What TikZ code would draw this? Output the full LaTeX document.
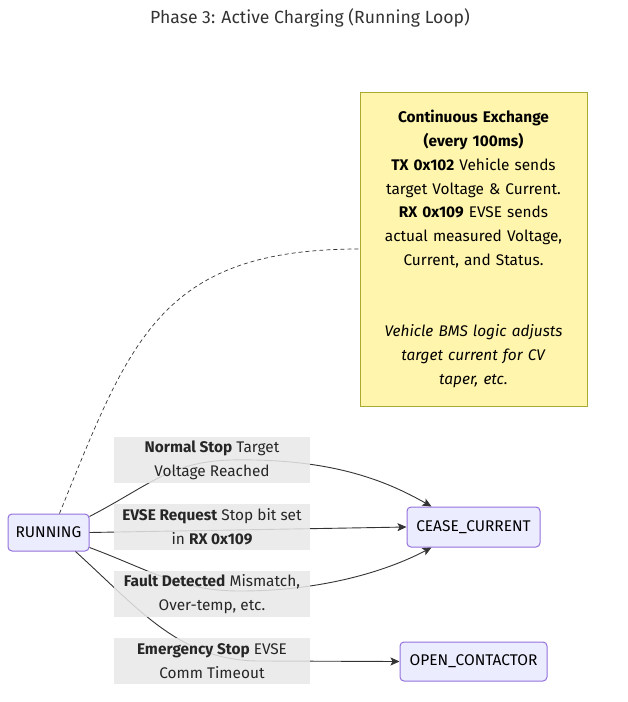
\documentclass[tikz,border=0pt]{standalone}
\usepackage{fontspec}
\setmainfont{Fira Sans}
\usetikzlibrary{arrows.meta,calc}
\definecolor{nodefill}{HTML}{ECECFF}
\definecolor{nodeline}{HTML}{9370DB}
\definecolor{notefill}{HTML}{FFF5AD}
\definecolor{noteline}{HTML}{AAAA33}
\definecolor{lblfill}{HTML}{E8E8E8}
\definecolor{edgecol}{HTML}{333333}
\definecolor{titlecol}{HTML}{333333}
\tikzset{
  statebox/.style={draw=nodeline, fill=nodefill, rounded corners=4pt, line width=1pt,
    font=\fontsize{15.5}{17}\selectfont, inner sep=0pt, text=black},
  notebox/.style={draw=noteline, fill=notefill, line width=1pt, inner sep=0pt,
    minimum width=227pt, minimum height=314pt},
  notetext/.style={align=center, text width=224pt, font=\fontsize{15.4}{23.8}\selectfont, inner sep=0pt},
  lblbox/.style={fill=lblfill, fill opacity=0.85, text opacity=1, minimum width=196pt,
    minimum height=46pt, align=center, inner sep=0pt, font=\fontsize{15.4}{24}\selectfont, text=black!85},
  edge/.style={draw=edgecol, line width=0.9pt},
  arr/.style={edge, -{Stealth[length=9pt,width=8pt,inset=2pt]}},
}
\begin{document}
\begin{tikzpicture}[x=1pt,y=-1pt]
\useasboundingbox (0,0) rectangle (628,702);
\node[font=\fontsize{17.6}{19}\selectfont, text=titlecol] (title) at (310,18) {Phase 3: Active Charging (Running Loop)};

\node[statebox, minimum width=81pt, minimum height=37pt] (run) at (48.5,532.5) {RUNNING};
\node[statebox, minimum width=133pt, minimum height=40pt] (cease) at (473.5,527) {CEASE\_CURRENT};
\node[statebox, minimum width=147pt, minimum height=39pt] (open) at (473.5,661.5) {OPEN\_CONTACTOR};

\node[notebox] (note) at (473.5,249) {};
\node[notetext] (notetxt) at (note.center) {\textbf{Continuous Exchange}\\ \textbf{(every 100ms)}\\ \textbf{TX 0x102} Vehicle sends\\ target Voltage \& Current.\\ \textbf{RX 0x109} EVSE sends\\ actual measured Voltage,\\ Current, and Status.\\ \mbox{}\\ \mbox{}\\ \textit{Vehicle BMS logic adjusts}\\ \textit{target current for CV}\\ \textit{taper, etc.}};

% dashed note link
\draw[edge, dash pattern=on 4pt off 3pt, line width=0.7pt] ($(run.north west)+(52,0)$) .. controls (130,340) and (160,249) .. (note.west);

% edges
\draw[arr] ($(run.north east)+(0,3)$) .. controls (150,485) and (170,462) .. (230,460) .. controls (330,458) and (385,480) .. ($(cease.north west)+(25,0)$);
\draw[arr] (run.east) -- (cease.west);
\draw[arr] ($(run.south east)+(0,-4)$) .. controls (150,570) and (180,591) .. (240,591) .. controls (320,591) and (385,572) .. ($(cease.south west)+(25,0)$);
\draw[arr] ($(run.south east)+(-14,0)$) .. controls (140,610) and (180,661) .. (260,661) -- (open.west);

% labels
\node[lblbox] (l1) at (212,460) {\textbf{Normal Stop} Target\\ Voltage Reached};
\node[lblbox] (l2) at (212,527) {\textbf{EVSE Request} Stop bit set\\ in \textbf{RX 0x109}};
\node[lblbox] (l3) at (212,594) {\textbf{Fault Detected} Mismatch,\\ Over-temp, etc.};
\node[lblbox] (l4) at (212,661) {\textbf{Emergency Stop} EVSE\\ Comm Timeout};
\end{tikzpicture}
\end{document}
